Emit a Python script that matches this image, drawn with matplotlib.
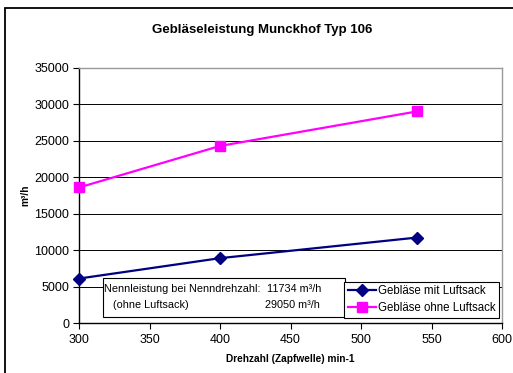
import matplotlib.pyplot as plt
from matplotlib.patches import Rectangle

plt.rcParams['font.family'] = ['Liberation Sans', 'DejaVu Sans']

drehzahl = [300, 400, 540]
mit_luftsack = [6100, 8900, 11734]
ohne_luftsack = [18600, 24300, 29050]

x_ticks = [300, 350, 400, 450, 500, 550, 600]
y_ticks = [0, 5000, 10000, 15000, 20000, 25000, 30000, 35000]

W, H = 513, 373
fig = plt.figure(figsize=(W / 100, H / 100), dpi=100)
fig.patch.set_facecolor('white')

# outer chart frame (cut off at right and bottom)
fig.patches.append(Rectangle((5 / W, -0.1), 1.2, 1 - 8 / H + 0.1,
                             transform=fig.transFigure, fill=False,
                             edgecolor='black', linewidth=1.3))

ax = fig.add_axes([79 / W, 1 - 323 / H, 423 / W, 255 / H])

ax.plot(drehzahl, mit_luftsack, color='#000080', marker='D', markersize=6,
        linewidth=1.6, label='Gebläse mit Luftsack', clip_on=False, zorder=5)
ax.plot(drehzahl, ohne_luftsack, color='#FF00FF', marker='s', markersize=6.8,
        linewidth=1.6, label='Gebläse ohne Luftsack', clip_on=False, zorder=5)

ax.set_xlim(300, 600)
ax.set_ylim(0, 35000)
ax.set_xticks(x_ticks)
ax.set_yticks(y_ticks)
ax.tick_params(direction='out', length=4, width=0.8, labelsize=9, pad=3)
ax.tick_params(axis='x', pad=4)
ax.yaxis.grid(True, color='black', linewidth=0.7)
ax.set_axisbelow(True)
for side in ['top', 'right']:
    ax.spines[side].set_color('#999999')
    ax.spines[side].set_linewidth(1.0)
for side in ['left', 'bottom']:
    ax.spines[side].set_linewidth(1.0)

ax.set_xlabel('Drehzahl (Zapfwelle) min-1', fontsize=7.3, fontweight='bold',
              labelpad=6)
ax.set_ylabel('m³/h', fontsize=7.3, fontweight='bold', labelpad=3)

fig.text(262 / W, 1 - 30 / H, 'Gebläseleistung Munckhof Typ 106',
         ha='center', va='center', fontsize=9.5, fontweight='bold')

# info box
ax.add_patch(Rectangle((0.056, 0.022), 0.573, 0.156, transform=ax.transAxes,
                       facecolor='white', edgecolor='black', linewidth=0.8,
                       zorder=6, clip_on=False))
tx = lambda px: (px - 79) / 423
ty = lambda py: (323 - py) / 255
ax.text(tx(104.5), ty(289.5), 'Nennleistung bei Nenndrehzahl:', fontsize=7.8,
        transform=ax.transAxes, va='center', ha='left', zorder=7)
ax.text(tx(113), ty(304.5), '(ohne Luftsack)', fontsize=7.8,
        transform=ax.transAxes, va='center', ha='left', zorder=7)
ax.text(tx(267), ty(289.5), '%d m³/h' % mit_luftsack[-1], fontsize=7.8,
        transform=ax.transAxes, va='center', ha='left', zorder=7)
ax.text(tx(265), ty(304.5), '%d m³/h' % ohne_luftsack[-1], fontsize=7.8,
        transform=ax.transAxes, va='center', ha='left', zorder=7)

leg = ax.legend(loc='lower right', bbox_to_anchor=(tx(499), ty(317.7)),
                fontsize=8.3, frameon=True, fancybox=False, edgecolor='black',
                framealpha=1, borderpad=0.3, handlelength=2.4,
                handletextpad=0.2, labelspacing=0.45, borderaxespad=0)
leg.get_frame().set_linewidth(0.8)
leg.set_zorder(8)

fig.savefig('out.png', dpi=100)
